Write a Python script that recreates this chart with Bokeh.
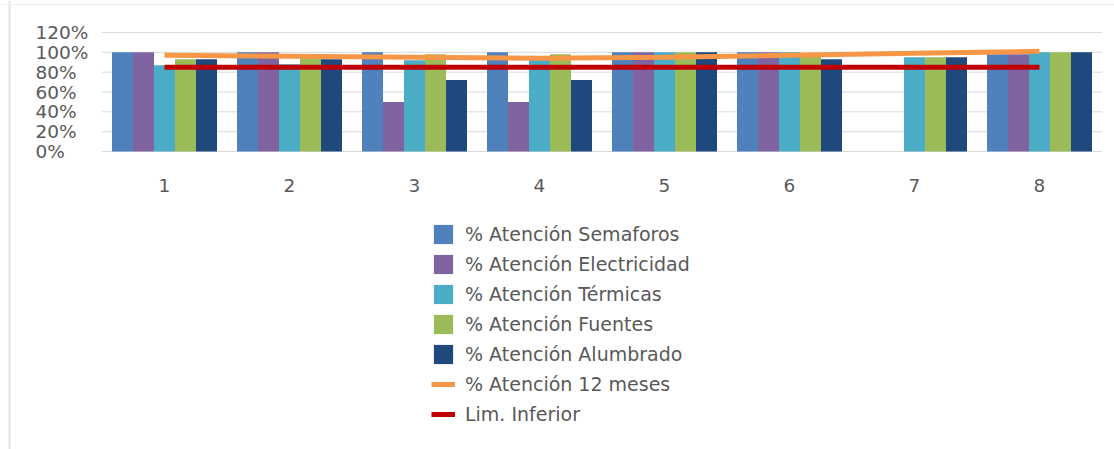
from bokeh.plotting import figure
from bokeh.models import Range1d, Legend, LegendItem, Span
from bokeh.core.properties import value
from bokeh.embed import file_html
from bokeh.resources import INLINE

# Monthly attention percentages per service (periods 1..8)
periods = [1, 2, 3, 4, 5, 6, 7, 8]
period_labels = ["1", "2", "3", "4", "5", "6", "7", "8"]
semaforos = [1.00, 1.00, 1.00, 1.00, 1.00, 1.00, 0.00, 0.98]
electricidad = [1.00, 1.00, 0.50, 0.50, 1.00, 1.00, 0.00, 0.98]
termicas = [0.87, 0.88, 0.92, 0.94, 1.00, 1.00, 0.95, 1.00]
fuentes = [0.93, 0.95, 0.98, 0.98, 1.00, 0.98, 0.95, 1.00]
alumbrado = [0.93, 0.93, 0.72, 0.72, 1.00, 0.93, 0.95, 1.00]
doce_meses = [0.97, 0.96, 0.95, 0.94, 0.95, 0.97, 0.99, 1.01]
lim_inferior = [0.85, 0.85, 0.85, 0.85, 0.85, 0.85, 0.85, 0.85]

y_ticks = [0.0, 0.2, 0.4, 0.6, 0.8, 1.0, 1.2]
y_tick_labels = ["0%", "20%", "40%", "60%", "80%", "100%", "120%"]

bar_series = [
    ("% Atención Semaforos", semaforos, "#4F81BD"),
    ("% Atención Electricidad", electricidad, "#8064A2"),
    ("% Atención Térmicas", termicas, "#4BACC6"),
    ("% Atención Fuentes", fuentes, "#9BBB59"),
    ("% Atención Alumbrado", alumbrado, "#1F497D"),
]
line_series = [
    ("% Atención 12 meses", doce_meses, "#F79646", 5),
    ("Lim. Inferior", lim_inferior, "#C00000", 5),
]

W, H = 1114, 449
FONT = "DejaVu Sans"
AXIS_FONT_SIZE = "18.5px"
LEGEND_FONT_SIZE = "19px"
TEXT = "#595959"
GRID = "#d9d9d9"

# The plotting frame fills the whole canvas; these helpers convert a pixel
# offset on the canvas into data units (125 px per period, 0%..120% over 119 px).
X_PX = 125.0
X_ORIGIN = 1 - 164 / X_PX
Y_PX = 119 / 1.2
Y_ZERO_PX = 151


def xd(px):
    return X_ORIGIN + px / X_PX


def yd(py):
    return (Y_ZERO_PX - py) / Y_PX


p = figure(width=W, height=H, output_backend="svg", toolbar_location=None,
           x_range=Range1d(xd(0), xd(W)), y_range=Range1d(yd(H), yd(0)),
           x_axis_type=None, y_axis_type=None,
           min_border=0, min_border_left=0, min_border_right=0,
           min_border_top=0, min_border_bottom=0)
p.outline_line_color = None
p.xgrid.visible = False
p.ygrid.visible = False
p.background_fill_color = "white"
p.border_fill_color = "white"

# horizontal gridlines across the category span
p.segment(x0=[0.5] * len(y_ticks), x1=[8.5] * len(y_ticks), y0=y_ticks, y1=y_ticks,
          line_color=GRID, line_width=1)

# percentage tick labels, left-aligned in the left margin
p.text(x=[xd(35)] * len(y_ticks), y=y_ticks, text=y_tick_labels,
       text_align="left", text_baseline="middle",
       text_font=value(FONT), text_font_size=AXIS_FONT_SIZE, text_color=TEXT)

# period labels below the zero line
p.text(x=periods, y=[yd(185)] * len(periods), text=period_labels,
       text_align="center", text_baseline="middle",
       text_font=value(FONT), text_font_size=AXIS_FONT_SIZE, text_color=TEXT)

bar_w = 0.168
items = []
for i, (name, vals, color) in enumerate(bar_series):
    r = p.vbar(x=[v + (i - 2) * bar_w for v in periods], top=vals, width=bar_w,
               fill_color=color, line_color=None)
    items.append(LegendItem(label=name, renderers=[r]))

for name, vals, color, lw in line_series:
    r = p.line(periods, vals, line_color=color, line_width=lw)
    items.append(LegendItem(label=name, renderers=[r]))

# faint chart-area border on the left and top
p.add_layout(Span(location=xd(9), dimension="height", line_color="#e4e4e4", line_width=2))
p.add_layout(Span(location=yd(4), dimension="width", line_color="#eeeeee", line_width=1))

legend = Legend(items=items, location=(431, H - 426), orientation="vertical",
                glyph_width=24, glyph_height=24, spacing=6, label_standoff=10,
                padding=0, margin=0, border_line_color=None,
                background_fill_alpha=0,
                label_text_font=FONT, label_text_font_size=LEGEND_FONT_SIZE,
                label_text_color=TEXT)
p.add_layout(legend, "center")

open("out.html", "w").write(file_html(p, INLINE))
